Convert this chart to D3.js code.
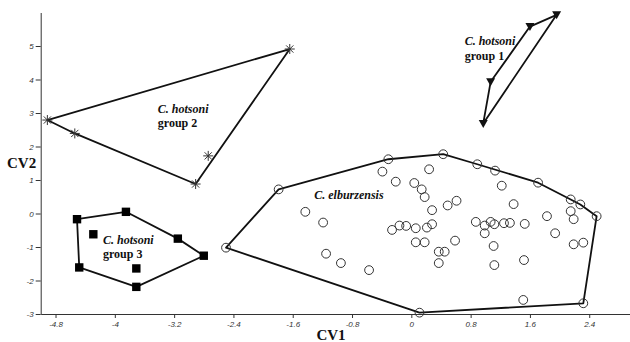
<!DOCTYPE html>
<html>
<head>
<meta charset="utf-8">
<script src="https://d3js.org/d3.v7.min.js"></script>
<style>
  body { margin: 0; background: #fff; }
  .axis path, .axis line { stroke: #333; stroke-width: 1; }
  .axis text { font-family: Arial, "Liberation Sans", sans-serif; font-style: italic; font-size: 8px; fill: #333; }
  .label { font-family: "Liberation Serif", "Times New Roman", serif; font-weight: bold; fill: #111; }
  .hull { fill: none; stroke: #111; stroke-width: 1.8; stroke-linejoin: round; }
</style>
</head>
<body>
<div id="scatter"></div>
<script>
  // canonical variate scores, [CV1, CV2]
  var group1 = [[1.96, 5.93], [1.60, 5.58], [1.07, 3.93], [0.97, 2.69]];

  var group2 = [[-4.91, 2.79], [-4.54, 2.39], [-2.91, 0.88], [-2.74, 1.72], [-1.64, 4.91]];

  var group3 = [[-4.51, -0.17], [-3.85, 0.05], [-3.15, -0.75], [-2.80, -1.26],
                [-3.71, -2.19], [-4.48, -1.61], [-4.29, -0.62], [-3.71, -1.64]];

  var elburzensis = [
    [-2.50, -1.02], [-1.79, 0.72], [-0.31, 1.62], [0.43, 1.77], [0.89, 1.47], [1.13, 1.28],
    [1.71, 0.92], [2.15, 0.42], [2.28, 0.27], [2.50, -0.08], [2.32, -2.68], [0.11, -2.96],
    [-1.43, 0.05], [-1.19, -0.27], [-1.15, -1.20], [-0.95, -1.48], [-0.57, -1.69],
    [-0.39, 1.25], [-0.21, 0.95], [0.04, 0.91], [0.14, 0.72], [0.18, 0.49], [0.28, 0.10],
    [0.24, 1.32], [0.49, 0.24], [0.61, 0.38],
    [-0.26, -0.49], [-0.16, -0.36], [-0.07, -0.37], [0.06, -0.44], [0.21, -0.42], [0.28, -0.32],
    [0.06, -0.86], [0.18, -0.86], [0.37, -1.14], [0.45, -1.14], [0.37, -1.48], [0.59, -0.81],
    [0.87, -0.25], [0.99, -0.36], [1.07, -0.25], [1.12, -0.32], [1.25, -0.29], [1.33, -0.28],
    [1.53, -0.31], [0.99, -0.59], [1.11, -0.97], [1.12, -1.54], [1.22, 0.83], [1.38, 0.28],
    [1.52, -1.39], [1.51, -2.58], [1.83, -0.08], [1.94, -0.59], [2.15, 0.07], [2.19, -0.17],
    [2.19, -0.92], [2.32, -0.87]
  ];

  var xTicks = [-4.8, -4, -3.2, -2.4, -1.6, -0.8, 0, 0.8, 1.6, 2.4];
  var yTicks = [-3, -2, -1, 0, 1, 2, 3, 4, 5];

  var groupLabels = [
    {lines: ["C. hotsoni", "group 1"], at: [0.72, 5.02]},
    {lines: ["C. hotsoni", "group 2"], at: [-3.42, 3.01]},
    {lines: ["C. hotsoni", "group 3"], at: [-4.16, -0.91]},
    {lines: ["C. elburzensis"], at: [-1.31, 0.43]}
  ];

  var width = 630, height = 342;

  var x = d3.scaleLinear().domain([-5, 3]).range([40.7, 633.7]);
  var y = d3.scaleLinear().domain([-3, 6]).range([314, 12.5]);

  var svg = d3.select("#scatter").append("svg")
    .attr("width", width)
    .attr("height", height);

  // axes
  svg.append("g")
    .attr("class", "axis")
    .attr("transform", "translate(0," + y(-3) + ")")
    .call(d3.axisBottom(x).tickValues(xTicks).tickSize(4).tickSizeOuter(0).tickPadding(3)
      .tickFormat(function(d) { return String(d); }));

  svg.append("g")
    .attr("class", "axis")
    .attr("transform", "translate(" + x(-5) + ",0)")
    .call(d3.axisLeft(y).tickValues(yTicks).tickSize(5).tickSizeOuter(0).tickPadding(2)
      .tickFormat(function(d) { return String(d); }));

  // axis titles
  svg.append("text").attr("class", "label")
    .attr("x", 331).attr("y", 340)
    .style("font-size", "15px").style("text-anchor", "middle")
    .text("CV1");

  svg.append("text").attr("class", "label")
    .attr("x", 7).attr("y", 168)
    .style("font-size", "15px")
    .text("CV2");

  // convex hulls round each group
  var line = d3.line().x(function(d) { return x(d[0]); }).y(function(d) { return y(d[1]); });

  [group1, group2, group3, elburzensis].forEach(function(pts) {
    var hull = d3.polygonHull(pts);
    svg.append("path")
      .attr("class", "hull")
      .attr("d", line(hull) + "Z");
  });

  // group 1: filled down triangles
  svg.selectAll(".tri")
    .data(group1)
  .enter().append("path")
    .attr("class", "tri")
    .attr("transform", function(d) { return "translate(" + x(d[0]) + "," + y(d[1]) + ")"; })
    .attr("d", "M-4.5,-3.5L4.5,-3.5L0,4.5Z")
    .style("fill", "#111");

  // group 2: asterisks
  svg.selectAll(".star")
    .data(group2)
  .enter().append("path")
    .attr("class", "star")
    .attr("transform", function(d) { return "translate(" + x(d[0]) + "," + y(d[1]) + ")"; })
    .attr("d", "M-5,0H5M0,-5V5M-3.6,-3.6L3.6,3.6M-3.6,3.6L3.6,-3.6")
    .style("stroke", "#333")
    .style("stroke-width", 1)
    .style("fill", "none");

  // group 3: filled squares
  svg.selectAll(".sq")
    .data(group3)
  .enter().append("rect")
    .attr("class", "sq")
    .attr("x", function(d) { return x(d[0]) - 4.2; })
    .attr("y", function(d) { return y(d[1]) - 4.2; })
    .attr("width", 8.4)
    .attr("height", 8.4)
    .style("fill", "#000");

  // elburzensis: open circles
  svg.selectAll(".dot")
    .data(elburzensis)
  .enter().append("circle")
    .attr("class", "dot")
    .attr("cx", function(d) { return x(d[0]); })
    .attr("cy", function(d) { return y(d[1]); })
    .attr("r", 4.4)
    .style("fill", "none")
    .style("stroke", "#333")
    .style("stroke-width", 1);

  // group names
  groupLabels.forEach(function(g) {
    var t = svg.append("text").attr("class", "label")
      .attr("x", x(g.at[0]))
      .attr("y", y(g.at[1]))
      .style("font-size", "12px");
    g.lines.forEach(function(s, i) {
      t.append("tspan")
        .attr("x", x(g.at[0]))
        .attr("dy", i === 0 ? 0 : 14.5)
        .style("font-style", i === 0 ? "italic" : "normal")
        .text(s);
    });
  });
</script>
</body>
</html>
